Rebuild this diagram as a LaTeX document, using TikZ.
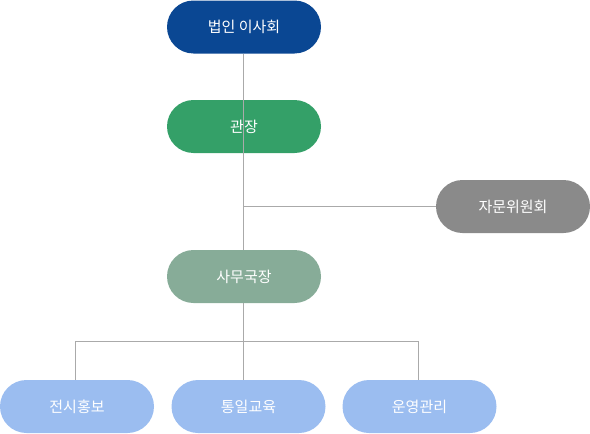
\documentclass[tikz,border=0pt]{standalone}
\usepackage{fontspec}
\setmainfont{Noto Sans CJK KR}
\definecolor{boardblue}{HTML}{0A4793}
\definecolor{directorgreen}{HTML}{34A068}
\definecolor{advisorgray}{HTML}{8A8A8A}
\definecolor{officegreen}{HTML}{87AC98}
\definecolor{teamblue}{HTML}{9BBDF0}
\definecolor{linkgray}{HTML}{AAAAAA}
\tikzset{
  orgbox/.style={rectangle,rounded corners=26.5pt,minimum width=154pt,
    minimum height=53pt,inner sep=0pt,text=white,font=\fontsize{15}{18}\selectfont},
  link/.style={draw=linkgray,line width=1pt}
}
\begin{document}
\begin{tikzpicture}[x=1pt,y=-1pt]
  \useasboundingbox (0,0) rectangle (590,434);
  \node[orgbox,fill=boardblue] (board) at (244,27) {법인 이사회};
  \node[orgbox,fill=directorgreen] (director) at (244,126.5) {관장};
  \node[orgbox,fill=advisorgray] (advisory) at (513,206.5) {자문위원회};
  \node[orgbox,fill=officegreen] (office) at (244,276.5) {사무국장};
  \node[orgbox,fill=teamblue] (exhibit) at (77,406.5) {전시홍보};
  \node[orgbox,fill=teamblue] (edu) at (248.5,406.5) {통일교육};
  \node[orgbox,fill=teamblue] (ops) at (419.5,406.5) {운영관리};
  \coordinate (branch) at (243,206.5);
  \coordinate (split) at (243,341);
  % connectors
  \draw[link] (board.south -| split) -- (office.north -| split);
  \draw[link] (branch) -- (advisory.west);
  \draw[link] (office.south -| split) -- (split);
  \draw[link] (split -| 75,0) -- (split -| 418,0);
  \draw[link] (split -| 75,0) -- (exhibit.north -| 75,0);
  \draw[link] (split) -- (edu.north -| split);
  \draw[link] (split -| 418,0) -- (ops.north -| 418,0);
\end{tikzpicture}
\end{document}
